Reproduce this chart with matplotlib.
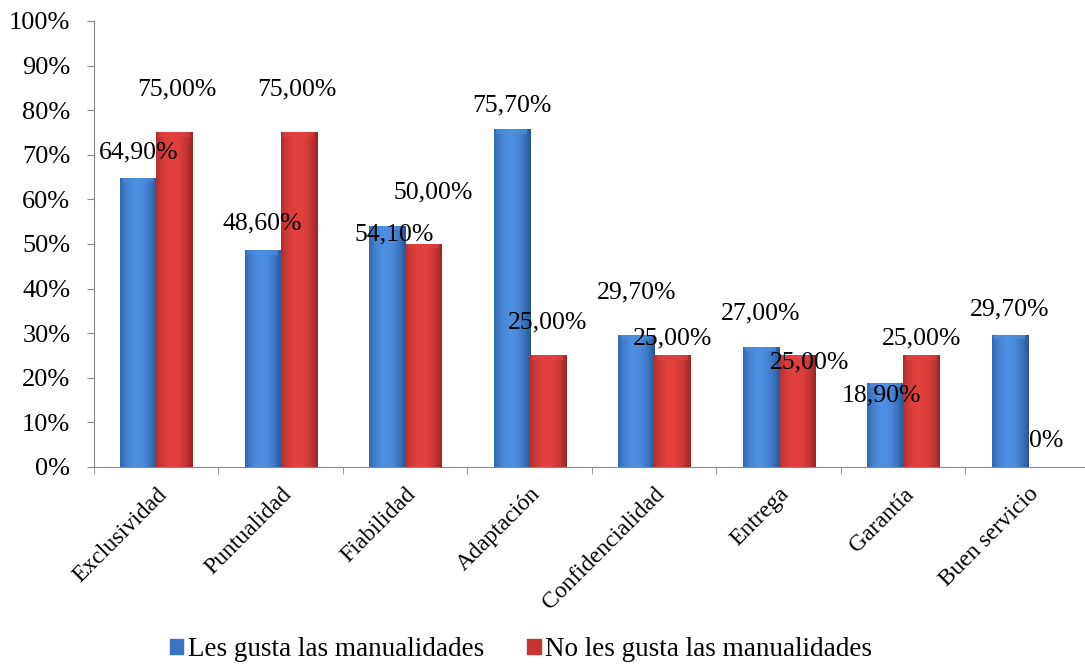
import numpy as np
import matplotlib.pyplot as plt
from matplotlib.ticker import FixedLocator

plt.rcParams['font.family'] = ['Liberation Serif', 'DejaVu Serif']

categorias = ['Exclusividad', 'Puntualidad', 'Fiabilidad', 'Adaptación',
              'Confidencialidad', 'Entrega', 'Garantía', 'Buen servicio']
les_gusta = [64.9, 48.6, 54.1, 75.7, 29.7, 27.0, 18.9, 29.7]
no_les_gusta = [75.0, 75.0, 50.0, 25.0, 25.0, 25.0, 25.0, 0.0]
etiquetas_gusta = ['64,90%', '48,60%', '54,10%', '75,70%', '29,70%', '27,00%', '18,90%', '29,70%']
etiquetas_no = ['75,00%', '75,00%', '50,00%', '25,00%', '25,00%', '25,00%', '25,00%', '0%']

# label offsets (dx, dy in points) -- placement as the spreadsheet left them
off_gusta = [(0, 18), (0, 19), (5, -6), (0, 17), (0, 30), (0, 24), (-3, -9), (0, 18)]
off_no = [(2, 31), (-1, 31), (7, 37), (0, 24), (0, 12), (9, -5), (0, 12), (0, 19)]

fig = plt.figure(figsize=(10.85, 6.66), dpi=100)
ax = fig.add_axes([0.0866, 0.2988, 0.9134, 0.6697])

x = np.arange(len(categorias))
w = 0.29


def gradient_bars(xs, vals, dark, light):
    bars = ax.bar(xs, vals, w, color=dark, edgecolor='none', zorder=2)
    grad = np.linspace(0, 1, 64)
    shade = 1 - (2 * np.abs(grad - 0.45)) ** 2
    c0 = np.array(plt.matplotlib.colors.to_rgb(dark))
    c1 = np.array(plt.matplotlib.colors.to_rgb(light))
    img = c0[None, None, :] + (c1 - c0)[None, None, :] * shade[None, :, None]
    for b in bars:
        if b.get_height() <= 0:
            continue
        x0 = b.get_x()
        im = ax.imshow(img, extent=[x0, x0 + b.get_width(), 0, b.get_height()],
                       aspect='auto', zorder=3, interpolation='bicubic')
        im.set_clip_path(b)
        # small highlight cap on top of each bar
        ax.fill_between([x0 + 0.02, x0 + b.get_width() - 0.02],
                        b.get_height() - 1.0, b.get_height(),
                        color=light, alpha=0.6, lw=0, zorder=4)
    return bars


gradient_bars(x - w / 2, les_gusta, '#2c5fa3', '#4d8fe0')
gradient_bars(x + w / 2, no_les_gusta, '#a82a2a', '#e2423f')

for i in range(len(categorias)):
    ax.annotate(etiquetas_gusta[i], (x[i] - w / 2, les_gusta[i]),
                xytext=off_gusta[i], textcoords='offset points',
                ha='center', va='center', fontsize=18.5, zorder=6)
    ax.annotate(etiquetas_no[i], (x[i] + w / 2, no_les_gusta[i]),
                xytext=off_no[i], textcoords='offset points',
                ha='center', va='center', fontsize=18.5, zorder=6)

ax.set_xlim(-0.5, 7.46)
ax.set_ylim(0, 100)
ax.set_yticks(np.arange(0, 101, 10))
ax.set_yticklabels([f'{v}%' for v in range(0, 101, 10)], fontsize=19)
ax.set_xticks(x)
ax.set_xticklabels(categorias, rotation=45, ha='right', rotation_mode='anchor',
                   fontsize=17)
ax.xaxis.set_minor_locator(FixedLocator(np.arange(-0.5, 8, 1)))
ax.tick_params(axis='x', which='major', length=0, pad=12)
ax.tick_params(axis='x', which='minor', length=5, color='#888888')
ax.tick_params(axis='y', length=5, color='#888888', pad=12)
for s in ['top', 'right']:
    ax.spines[s].set_visible(False)
for s in ['left', 'bottom']:
    ax.spines[s].set_color('#888888')

h1 = plt.Rectangle((0, 0), 1, 1, color='#3a75c4')
h2 = plt.Rectangle((0, 0), 1, 1, color='#c83432')
fig.legend([h1, h2], ['Les gusta las manualidades', 'No les gusta las manualidades'],
           loc='center', bbox_to_anchor=(0.48, 0.025), ncol=2, frameon=False,
           fontsize=19.5, handlelength=0.5, handleheight=0.5, handletextpad=0.15,
           columnspacing=1.6)

fig.savefig('out.png', dpi=100)
